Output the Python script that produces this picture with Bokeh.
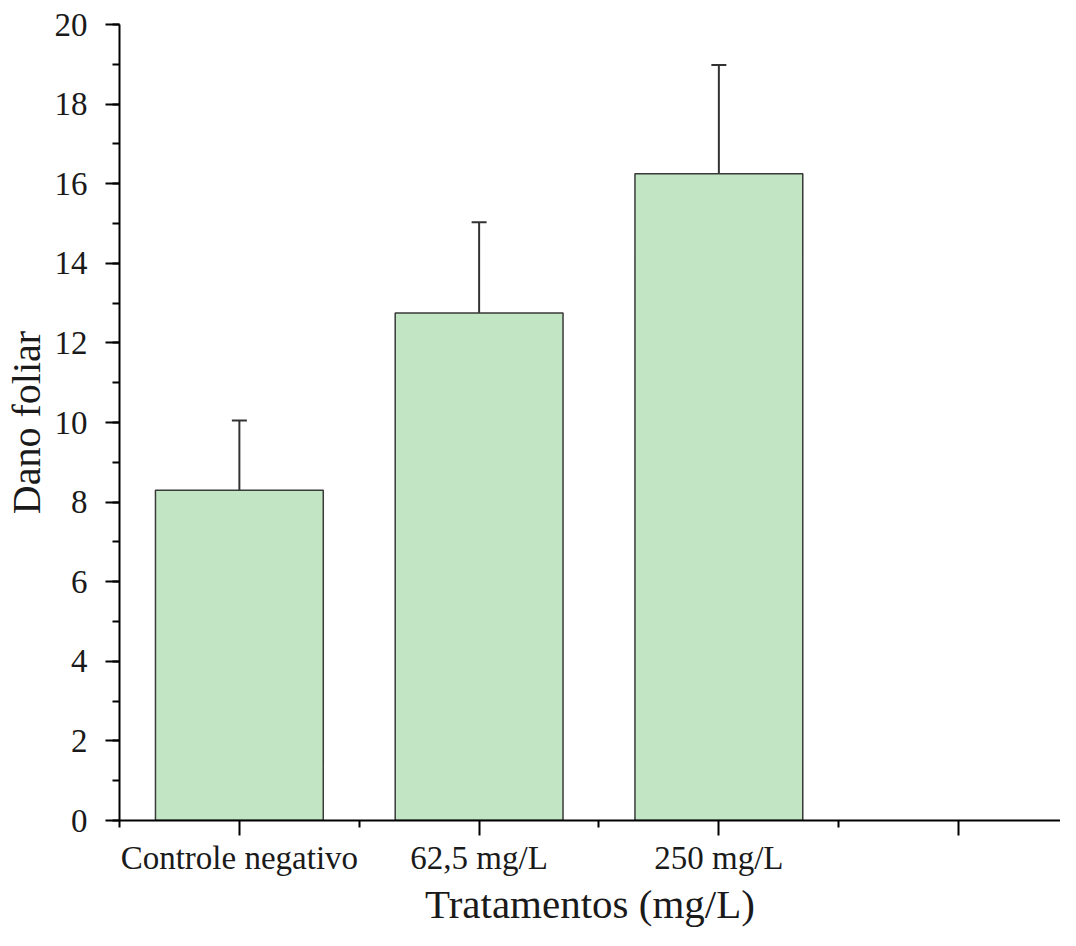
from bokeh.plotting import figure
from bokeh.models import ColumnDataSource, FixedTicker, SingleIntervalTicker, Range1d, Whisker, TeeHead
from bokeh.embed import file_html
from bokeh.resources import INLINE

categories = ["Controle negativo", "62,5 mg/L", "250 mg/L", ""]
means = [8.3, 12.75, 16.25]
errors = [1.75, 2.28, 2.73]

positions = [i + 1 for i in range(len(categories))]
bar_x = positions[:len(means)]
upper = [m + e for m, e in zip(means, errors)]

src = ColumnDataSource(data=dict(x=bar_x, top=means, upper=upper))

FONT = "Liberation Serif"

p = figure(width=1060, height=930, output_backend="svg", toolbar_location=None,
           x_range=Range1d(0.5, 4.425), y_range=Range1d(0, 20),
           min_border_left=116, min_border_right=0, min_border_top=24, min_border_bottom=110)
p.outline_line_color = None
p.grid.visible = False
p.background_fill_color = "white"

p.vbar(x="x", top="top", bottom=0, width=0.7, source=src,
       fill_color="#c2e5c3", line_color="#3a3a3a", line_width=1.5)

w = Whisker(base="x", lower="top", upper="upper", source=src, dimension="height",
            line_color="#333333", line_width=2,
            upper_head=TeeHead(size=15, line_color="#333333", line_width=2),
            lower_head=None)
p.add_layout(w)

# x axis
xa = p.xaxis[0]
xa.ticker = FixedTicker(ticks=positions, minor_ticks=[0.5, 1.5, 2.5, 3.5])
xa.major_label_overrides = {pos: lab for pos, lab in zip(positions, categories)}
xa.axis_label = "Tratamentos (mg/L)"
xa.axis_label_text_font = FONT
xa.axis_label_text_font_style = "normal"
xa.axis_label_text_font_size = "41px"
xa.axis_label_text_color = "#1a1a1a"
xa.axis_label_standoff = 2
xa.major_label_text_font = FONT
xa.major_label_text_font_size = "33px"
xa.major_label_text_color = "#1a1a1a"
xa.major_label_standoff = 4
xa.major_tick_out = 15
xa.major_tick_in = 0
xa.minor_tick_out = 7
xa.minor_tick_in = 0
xa.axis_line_width = 2
xa.major_tick_line_width = 2
xa.minor_tick_line_width = 2
xa.axis_line_color = "black"
xa.major_tick_line_color = "black"
xa.minor_tick_line_color = "black"

# y axis
ya = p.yaxis[0]
ya.ticker = SingleIntervalTicker(interval=2, num_minor_ticks=2)
ya.axis_label = "Dano foliar"
ya.axis_label_text_font = FONT
ya.axis_label_text_font_style = "normal"
ya.axis_label_text_font_size = "40px"
ya.axis_label_text_color = "#1a1a1a"
ya.axis_label_standoff = 3
ya.major_label_text_font = FONT
ya.major_label_text_font_size = "33px"
ya.major_label_text_color = "#1a1a1a"
ya.major_label_standoff = 18
ya.major_tick_out = 14
ya.major_tick_in = 0
ya.minor_tick_out = 7
ya.minor_tick_in = 0
ya.axis_line_width = 2
ya.major_tick_line_width = 2
ya.minor_tick_line_width = 2
ya.axis_line_color = "black"
ya.major_tick_line_color = "black"
ya.minor_tick_line_color = "black"

open("out.html", "w").write(file_html(p, INLINE))
